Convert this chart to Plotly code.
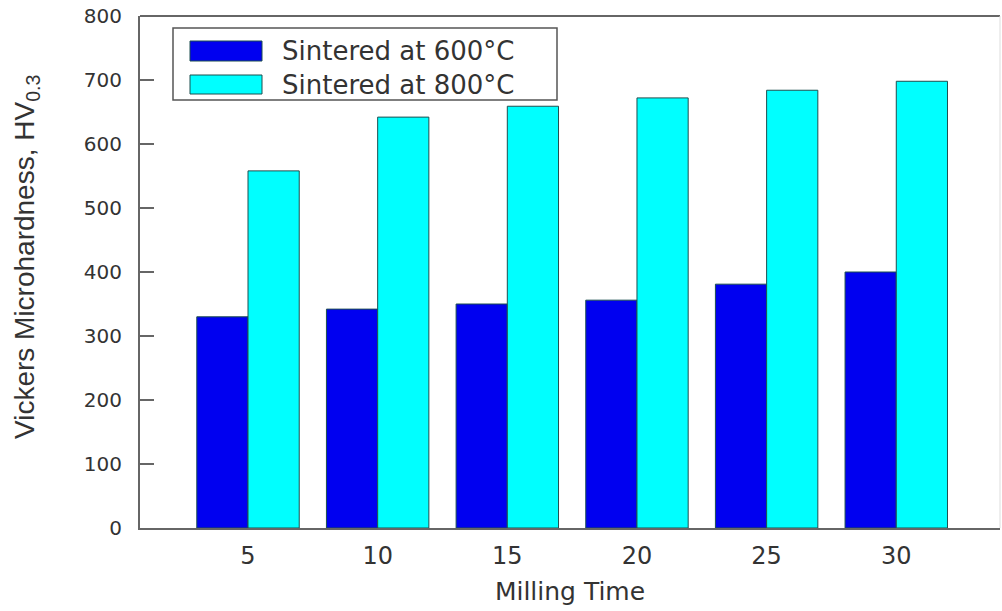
import plotly.graph_objects as go

milling_time = ["5", "10", "15", "20", "25", "30"]
hv_600 = [330, 342, 350, 356, 381, 400]
hv_800 = [558, 642, 659, 672, 684, 698]
series_names = ["Sintered at 600°C", "Sintered at 800°C"]
y_ticks = [0, 100, 200, 300, 400, 500, 600, 700, 800]

BLUE = "#0000F0"
CYAN = "#00FFFF"
EDGE = "#1d4f4f"
AXIS = "#666666"
TXT = "#333333"

fig = go.Figure()
fig.add_trace(go.Bar(x=milling_time, y=hv_600, name=series_names[0],
                     marker=dict(color=BLUE, line=dict(color=EDGE, width=1))))
fig.add_trace(go.Bar(x=milling_time, y=hv_800, name=series_names[1],
                     marker=dict(color=CYAN, line=dict(color=EDGE, width=1))))

fig.update_layout(
    width=1002, height=611,
    margin=dict(l=140, r=2, t=16, b=83),
    paper_bgcolor="white", plot_bgcolor="white",
    barmode="group", bargap=0.21, bargroupgap=0,
    showlegend=False,
    font=dict(family="DejaVu Sans", color=TXT),
)

fig.update_xaxes(
    type="category", range=[-0.833, 5.8],
    showline=True, linecolor=AXIS, linewidth=2, mirror=False,
    ticks="", showgrid=False, zeroline=False,
    tickfont=dict(family="DejaVu Sans", size=24, color=TXT),
    ticklabelstandoff=5,
    title=dict(text="Milling Time", font=dict(family="DejaVu Sans", size=25, color=TXT), standoff=14),
)
fig.update_yaxes(
    range=[0, 800], tickvals=y_ticks,
    showline=True, linecolor=AXIS, linewidth=2,
    ticks="inside", ticklen=14, tickwidth=2, tickcolor=AXIS,
    showgrid=False, zeroline=False,
    tickfont=dict(family="DejaVu Sans", size=20, color=TXT),
    ticklabelstandoff=12,
)

# top and right frame lines
fig.add_shape(type="line", xref="paper", yref="paper", x0=0, x1=1, y0=1, y1=1,
              line=dict(color=AXIS, width=2))
fig.add_shape(type="line", xref="paper", yref="paper", x0=1, x1=1, y0=0, y1=1,
              line=dict(color="#dddddd", width=1))

def px_x(p):
    return (p - 140) / 860

def px_y(p):
    return (528 - p) / 512

# y-axis title
fig.add_annotation(text="Vickers Microhardness, HV<sub>0.3</sub>", xref="paper", yref="paper",
                   x=px_x(26), y=px_y(257), xanchor="center", yanchor="middle",
                   textangle=-90, showarrow=False,
                   font=dict(family="Liberation Sans", size=28, color=TXT))

# custom legend
fig.add_shape(type="rect", xref="paper", yref="paper",
              x0=px_x(173), x1=px_x(557), y0=px_y(100), y1=px_y(28),
              line=dict(color="#555555", width=1.5), fillcolor="white")
legend_rows = [(41, 61, BLUE), (75, 94, CYAN)]
for (top, bot, col), name in zip(legend_rows, series_names):
    fig.add_shape(type="rect", xref="paper", yref="paper",
                  x0=px_x(190), x1=px_x(262), y0=px_y(bot), y1=px_y(top),
                  line=dict(color=EDGE, width=1), fillcolor=col)
    fig.add_annotation(text=name, xref="paper", yref="paper",
                       x=px_x(280), y=px_y((top + bot) / 2), xanchor="left", yanchor="middle",
                       showarrow=False,
                       font=dict(family="DejaVu Sans", size=26, color=TXT))

fig.write_html("out.html")
